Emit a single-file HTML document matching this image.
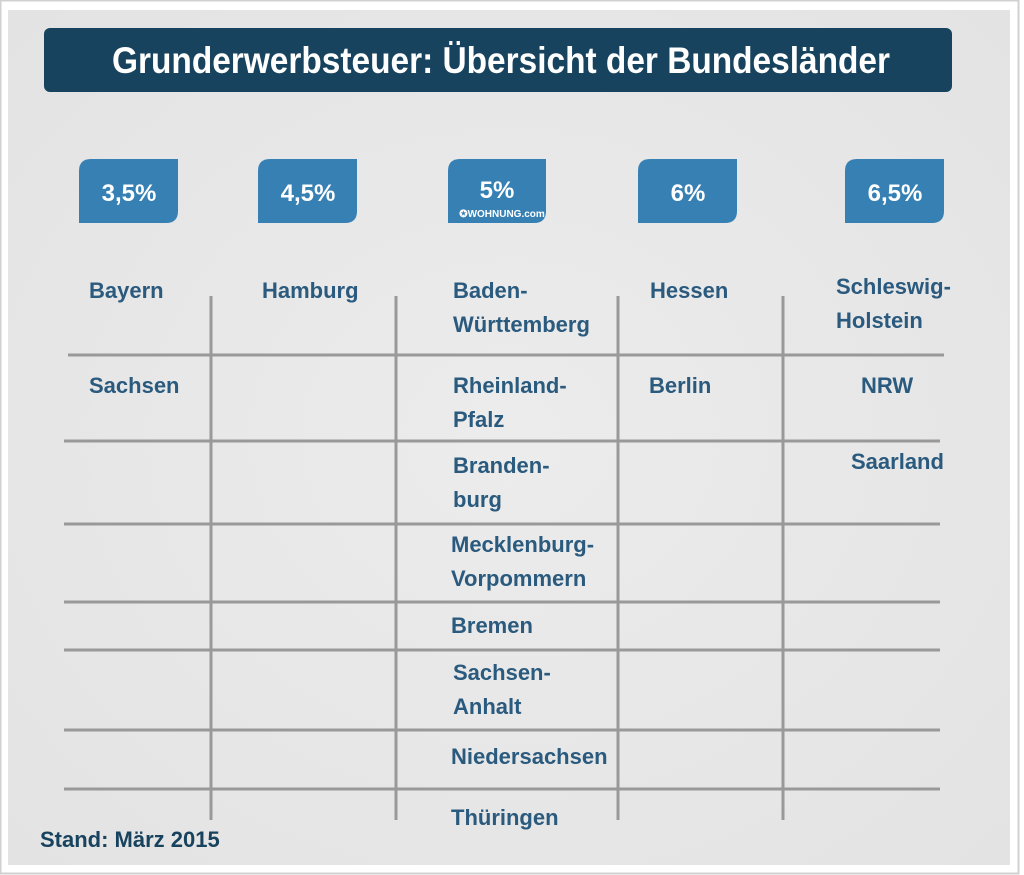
<!DOCTYPE html>
<html><head><meta charset="utf-8"><style>
html,body{margin:0;padding:0;background:#fff;}
body{width:1024px;height:875px;overflow:hidden;position:relative;font-family:"Liberation Sans Narrow","Liberation Sans",sans-serif;}
</style></head><body>
<svg width="1024" height="875" xmlns="http://www.w3.org/2000/svg" style="position:absolute;left:0;top:0">
<defs>
<radialGradient id="bg" cx="50%" cy="50%" r="70%">
<stop offset="0" stop-color="#ececec"/><stop offset="1" stop-color="#e3e3e3"/>
</radialGradient>
</defs>
<rect x="0.5" y="0.5" width="1018" height="873" fill="#fff" stroke="#d0d0d0" stroke-width="2"/>
<rect x="8" y="10" width="1002" height="855" fill="url(#bg)"/>
<rect x="44" y="28" width="908" height="64" rx="6" fill="#17435e"/>
<text x="112" y="73" font-size="37" font-weight="bold" fill="#fff" textLength="778" lengthAdjust="spacingAndGlyphs">Grunderwerbsteuer: Übersicht der Bundesländer</text>
<g fill="#3680b4">
<path d="M91 159H178V211Q178 223 166 223H79V171Q79 159 91 159Z"/>
<path d="M270 159H357V211Q357 223 345 223H258V171Q258 159 270 159Z"/>
<path d="M460 159H546V211Q546 223 534 223H448V171Q448 159 460 159Z"/>
<path d="M650 159H737V211Q737 223 725 223H638V171Q638 159 650 159Z"/>
<path d="M857 159H944V211Q944 223 932 223H845V171Q845 159 857 159Z"/>
</g>
<g fill="#fff" font-size="24" font-weight="bold" text-anchor="middle">
<text x="129" y="201">3,5%</text>
<text x="308" y="201">4,5%</text>
<text x="497" y="198">5%</text>
<text x="688" y="201">6%</text>
<text x="895" y="201">6,5%</text>
<text x="502" y="217" font-size="10">✪WOHNUNG.com</text>
</g>
<g stroke="#999" stroke-width="3">
<line x1="211" y1="296" x2="211" y2="820"/>
<line x1="396" y1="296" x2="396" y2="820"/>
<line x1="618" y1="296" x2="618" y2="820"/>
<line x1="783" y1="296" x2="783" y2="820"/>
<line x1="68" y1="355" x2="944" y2="355"/>
<line x1="64" y1="441" x2="940" y2="441"/>
<line x1="64" y1="524" x2="940" y2="524"/>
<line x1="64" y1="602" x2="940" y2="602"/>
<line x1="64" y1="650" x2="940" y2="650"/>
<line x1="64" y1="730" x2="940" y2="730"/>
<line x1="64" y1="789" x2="940" y2="789"/>
</g>
<g fill="#2a5a7e" font-size="22" font-weight="bold">
<text x="89" y="298">Bayern</text>
<text x="262" y="298">Hamburg</text>
<text x="453" y="298">Baden-</text>
<text x="453" y="332">Württemberg</text>
<text x="650" y="298">Hessen</text>
<text x="836" y="294">Schleswig-</text>
<text x="836" y="328">Holstein</text>
<text x="89" y="393">Sachsen</text>
<text x="453" y="393">Rheinland-</text>
<text x="453" y="427">Pfalz</text>
<text x="649" y="393">Berlin</text>
<text x="861" y="393">NRW</text>
<text x="851" y="469">Saarland</text>
<text x="453" y="473">Branden-</text>
<text x="453" y="507">burg</text>
<text x="451" y="552">Mecklenburg-</text>
<text x="451" y="586">Vorpommern</text>
<text x="451" y="633">Bremen</text>
<text x="453" y="680">Sachsen-</text>
<text x="453" y="714">Anhalt</text>
<text x="451" y="764">Niedersachsen</text>
<text x="451" y="825">Thüringen</text>
<text x="40" y="847" fill="#17435e">Stand: März 2015</text>
</g>
</svg>
</body></html>
